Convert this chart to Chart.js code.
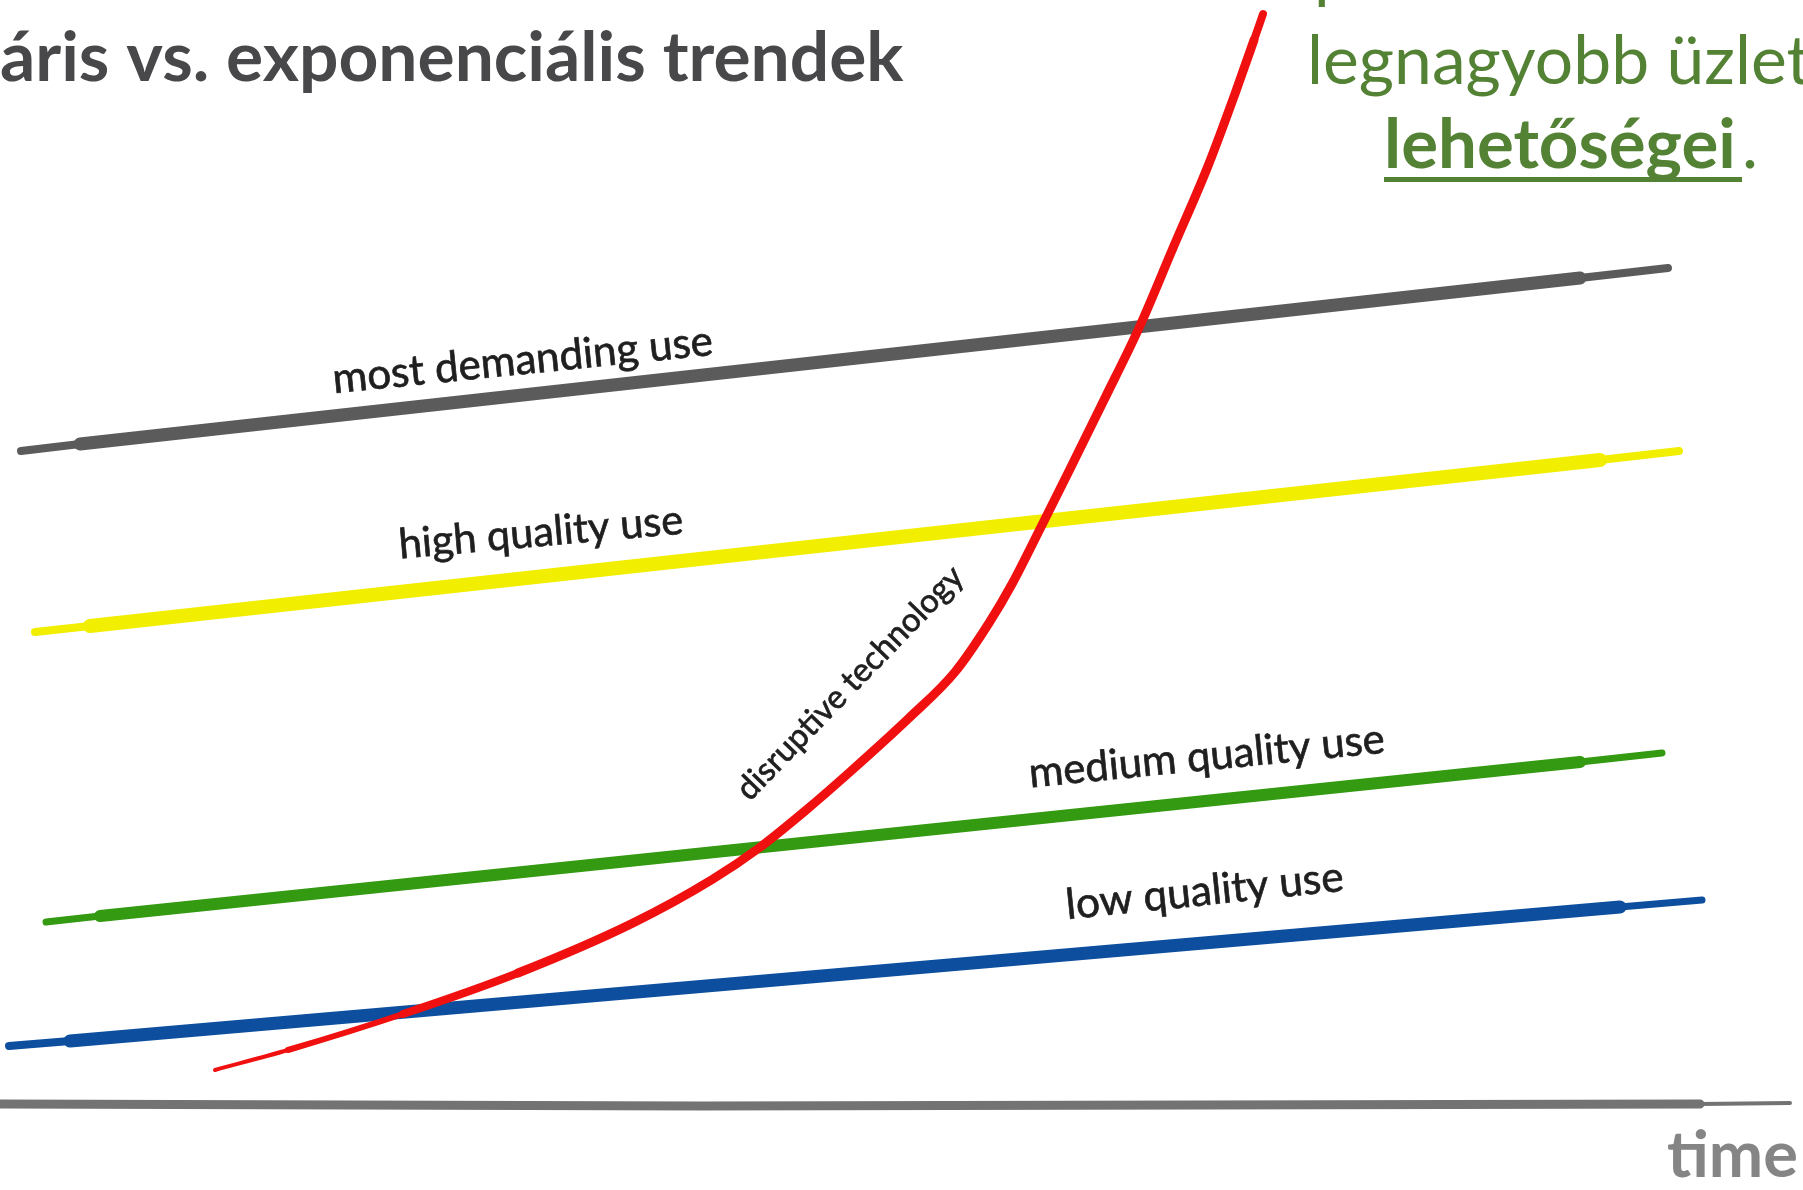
<!DOCTYPE html>
<html>
<head>
<meta charset="utf-8">
<script src="https://cdn.jsdelivr.net/npm/chart.js@4.4.1/dist/chart.umd.min.js"></script>
<style>
  html, body { margin: 0; padding: 0; background: #fff; overflow: hidden; }
  #wrap { position: relative; width: 1803px; height: 1190px; }
</style>
</head>
<body>
<div id="wrap"><canvas id="chart"></canvas></div>
<script>
'use strict';

// Values: x = time, y = performance level (0 at the bottom)
var demandingTime = [21, 80, 1580, 1668];
var demandingLevel = [739, 746, 912, 922];

var highTime = [35, 90, 1600, 1679];
var highLevel = [558, 564, 730, 739];

var mediumTime = [46, 100, 1580, 1662];
var mediumLevel = [268, 274, 428, 437];

var lowTime = [9, 70, 1620, 1702];
var lowLevel = [144, 149, 283, 290];

var disruptTime = [215, 288, 403, 518, 633, 713, 759, 805, 851, 909, 955, 989, 1012, 1041, 1070, 1104, 1139, 1173, 1208, 1236, 1254, 1263];
var disruptLevel = [120, 140, 176, 217, 267, 311, 342, 379, 419, 472, 518, 567, 606, 663, 721, 790, 862, 942, 1024, 1099, 1150, 1176];

var axisTime = [0, 700, 1700, 1790];
var axisLevel = [86, 84, 86, 87];

// Texts
var seriesNames = ['most demanding use', 'high quality use', 'medium quality use', 'low quality use', 'disruptive technology'];
var titleText = 'áris vs. exponenciális trendek';
var noteLines = ['pontok határozzák meg a', 'legnagyobb üzleti', 'lehetőségei'];
var timeLabel = 'time';

function points(xs, ys) {
	return xs.map(function(v, i) { return { x: v, y: ys[i] }; });
}

// brush taper: thinner first/last stroke
function taper(widths) {
	return function(ctx) { return widths[ctx.p0DataIndex]; };
}

function fitFont(ctx, text, weight, family, width) {
	ctx.font = weight + ' 100px ' + family;
	var size = 100 * width / ctx.measureText(text).width;
	return weight + ' ' + size.toFixed(1) + 'px ' + family;
}

function line(label, xs, ys, color, widths, extra) {
	return Object.assign({
		label: label,
		data: points(xs, ys),
		showLine: true,
		borderColor: color,
		borderWidth: widths[1],
		borderCapStyle: 'round',
		borderJoinStyle: 'round',
		pointRadius: 0,
		pointHoverRadius: 0,
		fill: false,
		order: 1,
		segment: { borderWidth: taper(widths) }
	}, extra || {});
}

var sketchText = {
	id: 'sketchText',
	afterDatasetsDraw: function(chart) {
		var ctx = chart.ctx;
		var sx = chart.scales.x, sy = chart.scales.y;
		var family = 'Lato, "Open Sans", sans-serif';

		// labels along the lines (anchor in data units, width in px)
		var labels = [
			{ text: seriesNames[0], at: [524, 816], angle: -5.8, width: 382 },
			{ text: seriesNames[1], at: [542, 644], angle: -5.0, width: 285 },
			{ text: seriesNames[2], at: [1208, 420], angle: -5.6, width: 357 },
			{ text: seriesNames[3], at: [1206, 285], angle: -5.9, width: 279 },
			{ text: seriesNames[4], at: [850, 507], angle: -46, width: 310, middle: true }
		];

		labels.forEach(function(l) {
			ctx.save();
			ctx.translate(sx.getPixelForValue(l.at[0]), sy.getPixelForValue(l.at[1]));
			ctx.rotate(l.angle * Math.PI / 180);
			ctx.font = fitFont(ctx, l.text, 'normal', family, l.width);
			ctx.fillStyle = '#1f1f1f';
			ctx.strokeStyle = '#1f1f1f';
			ctx.lineWidth = 0.7;
			ctx.textAlign = 'center';
			ctx.textBaseline = l.middle ? 'middle' : 'alphabetic';
			ctx.fillText(l.text, 0, 0);
			ctx.strokeText(l.text, 0, 0);
			ctx.restore();
		});

		ctx.save();
		// page title (cut at left edge)
		ctx.font = fitFont(ctx, titleText, 'bold', family, 903);
		ctx.fillStyle = '#48484a';
		ctx.textAlign = 'left';
		ctx.textBaseline = 'alphabetic';
		ctx.fillText(titleText, 0, 81);

		// green note, top right (first line mostly above the page)
		ctx.fillStyle = '#548235';
		var noteFont = fitFont(ctx, 'legnagyobb', 'normal', family, 342);
		ctx.font = noteFont;
		ctx.fillText(noteLines[0], 1314, -5);
		ctx.fillText(noteLines[1], 1307, 84);
		ctx.font = fitFont(ctx, noteLines[2], 'bold', family, 352);
		ctx.fillText(noteLines[2], 1384, 168);
		ctx.fillRect(1384, 177, 358, 5);
		ctx.font = noteFont;
		ctx.fillText('.', 1742, 168);

		// axis label
		ctx.fillStyle = '#858585';
		ctx.font = fitFont(ctx, timeLabel, 'bold', family, 131);
		ctx.fillText(timeLabel, 1667, 1177);
		ctx.restore();
	}
};

new Chart(document.getElementById('chart'), {
	type: 'scatter',
	data: {
		datasets: [
			line(seriesNames[4], disruptTime, disruptLevel, '#f01010',
				[4, 6, 8, 9, 9, 9, 9, 9, 9, 9, 9, 9, 9, 9, 9, 9, 9, 9, 9, 9, 8, 7],
				{ cubicInterpolationMode: 'monotone', order: 0 }),
			line(seriesNames[0], demandingTime, demandingLevel, '#5b5b5b', [8, 13, 8]),
			line(seriesNames[1], highTime, highLevel, '#f2ee00', [8, 14, 8]),
			line(seriesNames[2], mediumTime, mediumLevel, '#349a12', [7, 12, 7]),
			line(seriesNames[3], lowTime, lowLevel, '#0d4f9e', [8, 13, 7]),
			line('time axis', axisTime, axisLevel, '#737373', [9, 9, 4])
		]
	},
	options: {
		responsive: true,
		maintainAspectRatio: false,
		animation: false,
		events: [],
		layout: { padding: 0 },
		plugins: {
			legend: { display: false },
			tooltip: { enabled: false }
		},
		scales: {
			x: { type: 'linear', display: false, min: 0, max: 1803 },
			y: { type: 'linear', display: false, min: 0, max: 1190 }
		}
	},
	plugins: [sketchText]
});
</script>
</body>
</html>
